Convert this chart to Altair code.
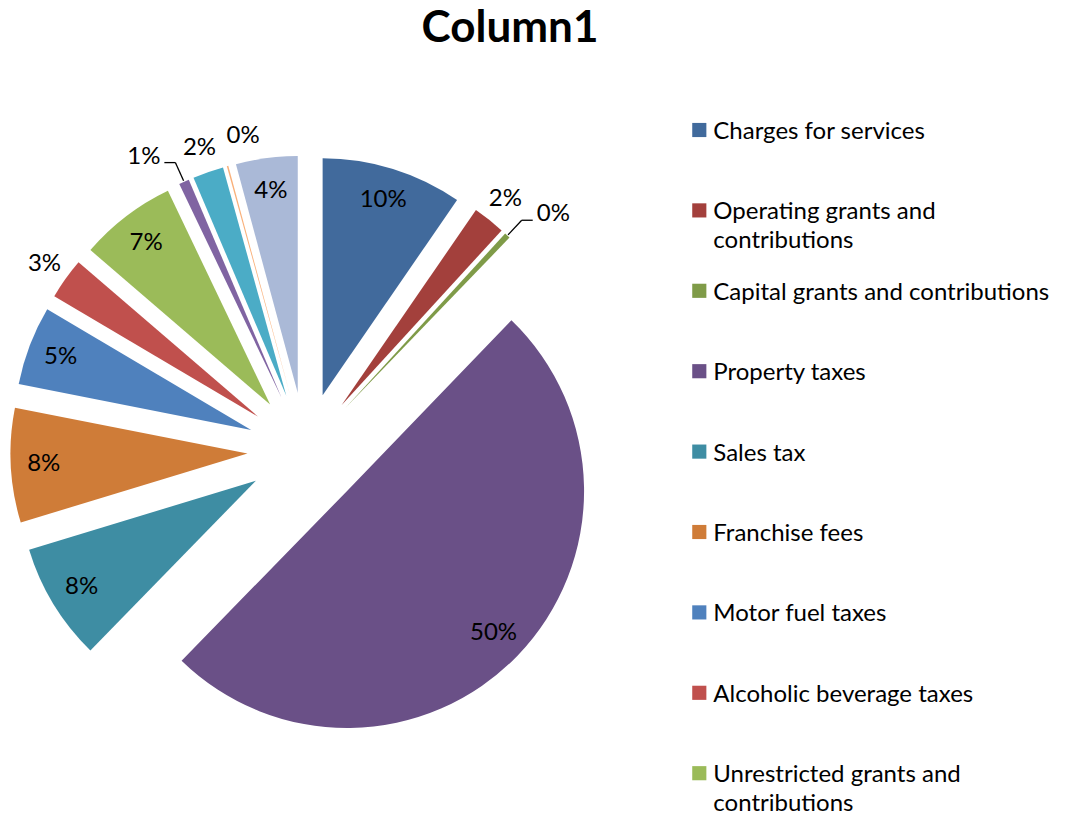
import altair as alt
import pandas as pd

# ---------------- data ----------------
TITLE = "Column1"
CATEGORIES = [
    "Charges for services",
    "Operating grants and contributions",
    "Capital grants and contributions",
    "Property taxes",
    "Sales tax",
    "Franchise fees",
    "Motor fuel taxes",
    "Alcoholic beverage taxes",
    "Unrestricted grants and contributions",
    "Investment earnings",
    "Miscellaneous",
    "Gain on sale of capital assets",
    "Transfers",
]
VALUES = [9.6, 2.2, 0.4, 50.1, 8.0, 7.8, 5.4, 2.8, 6.6, 0.7, 2.1, 0.1, 4.2]
COLORS = ["#416A9C", "#A3403C", "#7F9B48", "#6A5087", "#3E8DA3", "#CF7C38",
          "#4F81BD", "#C0504D", "#9BBB59", "#8064A2", "#4BACC6", "#F9B07A", "#AAB9D7"]
LEGEND_VISIBLE = 9  # the rest of the legend is cut off in the original

# ---------------- layout / style ----------------
W, H = 1051, 803
CX, CY = 297.4, 442.6
EXPLODE = 58
R = 237
R_IN = 204
R_OUT = 263
FONT = "Lato"
FS = 24
LEADER = ["Capital grants and contributions", "Investment earnings"]
NUDGE = {"Investment earnings": -6, "Gain on sale of capital assets": 5}
LEG_X, LEG_Y0, LEG_STEP = 691.3, 122.0, 80.4

df = pd.DataFrame({"category": CATEGORIES, "value": VALUES, "idx": list(range(len(CATEGORIES)))})

nudge_expr = " : ".join(
    [f"datum.category === '{k}' ? {v}" for k, v in NUDGE.items()] + ["0"]
)
leader_list = "[" + ",".join(f"'{c}'" for c in LEADER) + "]"

color = alt.Color("category:N", scale=alt.Scale(domain=CATEGORIES, range=COLORS), legend=None)

base = (
    alt.Chart(df)
    .transform_joinaggregate(total="sum(value)")
    .transform_window(cum="sum(value)", sort=[alt.SortField("idx")], frame=[None, 0])
    .transform_calculate(
        p0="(datum.cum - datum.value) / datum.total",
        p1="datum.cum / datum.total",
        mid="PI * (2 * datum.cum - datum.value) / datum.total",
        tx=f"{CX} + {EXPLODE} * sin(datum.mid)",
        ty=f"{CY} - {EXPLODE} * cos(datum.mid)",
        pct="format(datum.value / datum.total, '.0%')",
        frac="datum.value / datum.total",
        nud=nudge_expr,
        la="datum.mid + datum.nud * PI / 180",
        lead=f"indexof({leader_list}, datum.category) >= 0",
        side="sin(datum.mid) >= 0 ? 1 : -1",
        ix=f"datum.tx + {R_IN} * sin(datum.mid)",
        iy=f"datum.ty - {R_IN} * cos(datum.mid)",
        ox=f"datum.tx + {R_OUT} * sin(datum.la)",
        oy=f"datum.ty - {R_OUT} * cos(datum.la)",
        ex=f"datum.tx + {R + 1} * sin(datum.mid)",
        ey=f"datum.ty - {R + 1} * cos(datum.mid)",
        bx=f"datum.tx + {R + 21} * sin(datum.mid)",
        by=f"datum.ty - {R + 21} * cos(datum.mid)",
        hx="datum.bx + 11 * datum.side",
        lx="datum.hx + 4 * datum.side",
        ly2="datum.by - 6",
    )
)

arcs = base.mark_arc(radius=R, stroke=None).encode(
    theta=alt.Theta("p0:Q", scale=alt.Scale(domain=[0, 1], range=[0, 6.283185307179586])),
    theta2="p1:Q",
    x=alt.X("tx:Q", scale=None, axis=None),
    y=alt.Y("ty:Q", scale=None, axis=None),
    color=color,
)

inside = base.transform_filter("datum.frac >= 0.035").mark_text(
    font=FONT, fontSize=FS, color="black", align="center", baseline="middle"
).encode(x=alt.X("ix:Q", scale=None), y=alt.Y("iy:Q", scale=None), text="pct:N")

outside = base.transform_filter("datum.frac < 0.035 && !datum.lead").mark_text(
    font=FONT, fontSize=FS, color="black", align="center", baseline="middle"
).encode(x=alt.X("ox:Q", scale=None), y=alt.Y("oy:Q", scale=None), text="pct:N")

lead_right = base.transform_filter("datum.lead && datum.side > 0").mark_text(
    font=FONT, fontSize=FS, color="black", align="left", baseline="middle"
).encode(x=alt.X("lx:Q", scale=None), y=alt.Y("ly2:Q", scale=None), text="pct:N")

lead_left = base.transform_filter("datum.lead && datum.side < 0").mark_text(
    font=FONT, fontSize=FS, color="black", align="right", baseline="middle"
).encode(x=alt.X("lx:Q", scale=None), y=alt.Y("ly2:Q", scale=None), text="pct:N")

rule1 = base.transform_filter("datum.lead").mark_rule(color="black", strokeWidth=1.3).encode(
    x=alt.X("ex:Q", scale=None), y=alt.Y("ey:Q", scale=None), x2="bx:Q", y2="by:Q"
)
rule2 = base.transform_filter("datum.lead").mark_rule(color="black", strokeWidth=1.3).encode(
    x=alt.X("bx:Q", scale=None), y=alt.Y("by:Q", scale=None), x2="hx:Q", y2="by:Q"
)

legend_base = base.transform_filter(f"datum.idx < {LEGEND_VISIBLE}").transform_calculate(
    legy=f"{LEG_Y0} + datum.idx * {LEG_STEP}",
    legty="datum.legy + 9",
    wrapped="length(datum.category) > 33 ? substring(datum.category, 0, lastindexof(datum.category, ' ')) + '\\n' + substring(datum.category, lastindexof(datum.category, ' ') + 1) : datum.category",
)
leg_sq = legend_base.mark_square(size=200, opacity=1, filled=True).encode(
    x=alt.value(LEG_X), y=alt.Y("legy:Q", scale=None), color=color
)
leg_tx = legend_base.mark_text(
    font=FONT, fontSize=FS, color="black", align="left", baseline="alphabetic",
    lineBreak="\n", lineHeight=29,
).encode(x=alt.value(LEG_X + 14), y=alt.Y("legty:Q", scale=None), text="wrapped:N")

title = alt.Chart(pd.DataFrame({"t": [TITLE]})).mark_text(
    font=FONT, fontSize=44, fontWeight="bold", color="black", align="center", baseline="alphabetic"
).encode(x=alt.value(502), y=alt.value(34), text="t:N")

chart = (
    alt.layer(arcs, inside, outside, rule1, rule2, lead_right, lead_left, leg_sq, leg_tx, title)
    .properties(width=W, height=H, autosize=alt.AutoSizeParams(type="none"), padding=0)
    .configure_view(stroke=None)
)

chart.save("out.html", embed_options={"renderer": "svg", "actions": False})
